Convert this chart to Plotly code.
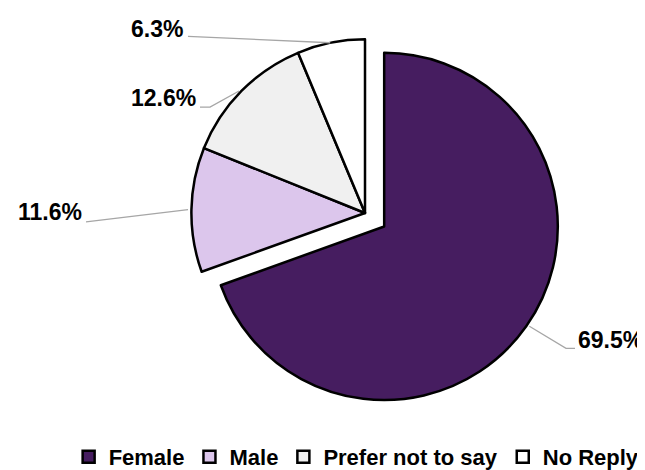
import math
import plotly.graph_objects as go

# ---- data ----
labels = ["Female", "Male", "Prefer not to say", "No Reply"]
values = [69.5, 11.6, 12.6, 6.3]
value_text = ["69.5%", "11.6%", "12.6%", "6.3%"]

# ---- style ----
colors = ["#461D60", "#DCC6EC", "#F0F0F0", "#FFFFFF"]
pulls = [0.135, 0, 0, 0]
W, H = 645, 470
dom_x = [0.2420, 0.8650]
dom_y = [0.1279, 0.9828]
# label text centre and leader-line path points near the label (pixels)
label_pos = [(602, 338), (42, 208), (155, 92), (149, 21)]
leader_pts = [[(558, 347), (567, 347)], [(78, 218)], [(202, 101), (192, 101)], [(180, 29)]]
lab_font = dict(family="Liberation Sans, Arial", size=23, color="#000000", weight="bold")

fig = go.Figure(go.Pie(
    labels=labels, values=values, sort=False, direction="clockwise", rotation=0,
    pull=pulls, textinfo="none", hoverinfo="label+percent",
    marker=dict(colors=colors, line=dict(color="#000000", width=2.5)),
    domain=dict(x=dom_x, y=dom_y),
))

# pie geometry as plotly computes it (margins are 0)
boxW = W * (dom_x[1] - dom_x[0])
boxH = H * (dom_y[1] - dom_y[0])
r = min(boxW, boxH) / (2 + 2 * max(pulls))
cx = W * (dom_x[0] + dom_x[1]) / 2
cy = H * (1 - dom_y[0]) - boxH / 2
total = sum(values)


def to_paper(px, py):
    return px / W, 1 - py / H


cum = 0
annotations = []
shapes = []
for v, t, p, (tx, ty), pts in zip(values, value_text, pulls, label_pos, leader_pts):
    mid = (cum + v / 2) / total * 2 * math.pi
    cum += v
    dx, dy = math.sin(mid), -math.cos(mid)
    hx = cx + (r + p * r) * dx
    hy = cy + (r + p * r) * dy
    path_pts = [(hx, hy)] + pts
    path = " ".join(("M" if i == 0 else "L") + "%.5f,%.5f" % to_paper(*q) for i, q in enumerate(path_pts))
    shapes.append(dict(type="path", path=path, xref="paper", yref="paper",
                       line=dict(color="#A6A6A6", width=1.3)))
    ax_, ay_ = to_paper(tx, ty)
    annotations.append(dict(x=ax_, y=ay_, xref="paper", yref="paper", text=t,
                            showarrow=False, xanchor="center", yanchor="middle", font=lab_font))

fig.update_layout(
    width=W, height=H, margin=dict(l=0, r=0, t=0, b=0),
    paper_bgcolor="#FFFFFF", plot_bgcolor="#FFFFFF",
    showlegend=True,
    legend=dict(orientation="h", x=0.094, xanchor="left", y=0.025, yanchor="middle",
                font=dict(family="Liberation Sans, Arial", size=22, color="#000000", weight="bold"),
                itemwidth=30, bgcolor="rgba(0,0,0,0)"),
    annotations=annotations,
    shapes=shapes,
)
fig.write_html("out.html")
